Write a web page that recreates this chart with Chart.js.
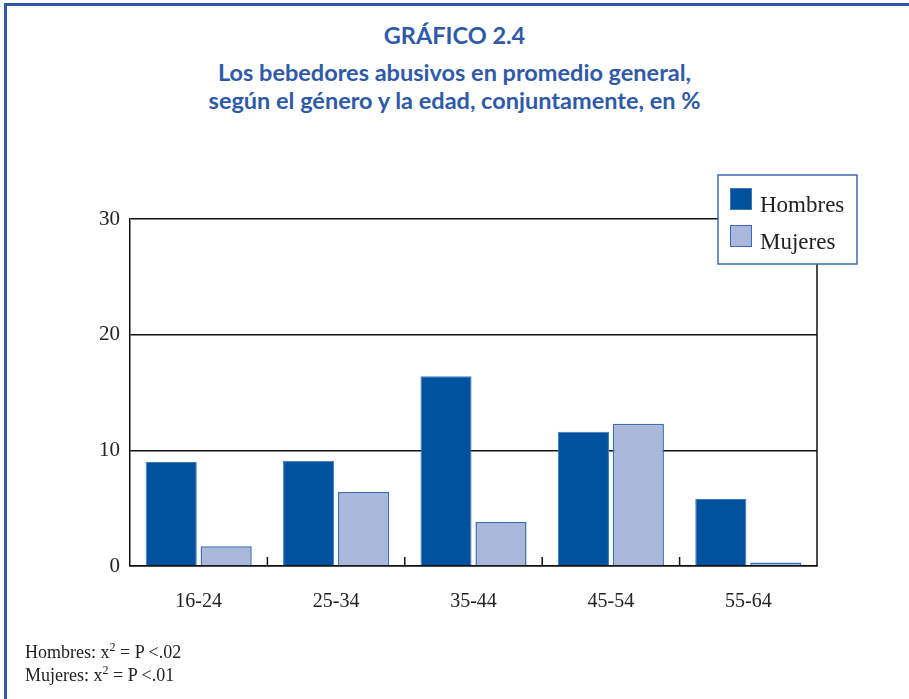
<!DOCTYPE html>
<html>
<head>
<meta charset="utf-8">
<script src="https://cdn.jsdelivr.net/npm/chart.js@4.4.1/dist/chart.umd.min.js"></script>
<style>
    html, body {
        margin: 0;
        padding: 0;
        background: #fff;
    }
    .page {
        position: relative;
        width: 909px;
        height: 699px;
        overflow: hidden;
    }
    .frame {
        position: absolute;
        left: 4px;
        top: 3px;
        width: 960px;
        height: 760px;
        border-left: 3px solid #2f5aa8;
        border-top: 3px solid #2f5aa8;
    }
    .title {
        position: absolute;
        left: 0;
        width: 909px;
        text-align: center;
        font-family: Lato, "Open Sans", sans-serif;
        font-weight: bold;
        color: #2f5aa8;
        font-size: 23.5px;
        line-height: 28px;
    }
    .notes {
        position: absolute;
        left: 25px;
        top: 641px;
        font-family: "Liberation Serif", "DejaVu Serif", serif;
        font-size: 18px;
        line-height: 23px;
        color: #222;
    }
    .notes sup { font-size: 12px; line-height: 0; }
    canvas {
        position: absolute;
        left: 0;
        top: 0;
    }
</style>
</head>
<body>
<div class="page">
    <div class="frame"></div>
    <div class="title" style="top:21px;">GRÁFICO 2.4</div>
    <div class="title" style="top:58px;">Los bebedores abusivos en promedio general,</div>
    <div class="title" style="top:86px;">según el género y la edad, conjuntamente, en %</div>
    <canvas id="chart" width="909" height="699"></canvas>
    <div class="notes">
        Hombres: x<sup>2</sup> = P &lt;.02<br>
        Mujeres: x<sup>2</sup> = P &lt;.01
    </div>
</div>
<script>
// Chart data
const categories = ['16-24', '25-34', '35-44', '45-54', '55-64'];
const hombres = [9.0, 9.1, 16.4, 11.6, 5.8];
const mujeres = [1.7, 6.4, 3.8, 12.3, 0.3];
const yTicks = [0, 10, 20, 30];

const serif = '"Liberation Serif", "DejaVu Serif", serif';

// Inward ticks between categories, right border and legend box
const framePlugin = {
    id: 'framePlugin',
    afterDraw(chart) {
        const ctx = chart.ctx;
        const area = chart.chartArea;
        const x = chart.scales.x;

        ctx.save();
        ctx.strokeStyle = '#111';
        ctx.lineWidth = 1.5;

        // right border
        ctx.beginPath();
        ctx.moveTo(area.right, area.top);
        ctx.lineTo(area.right, area.bottom);
        ctx.stroke();

        // small ticks between categories
        for (let i = 0; i < categories.length - 1; i++) {
            const px = (x.getPixelForValue(i) + x.getPixelForValue(i + 1)) / 2;
            ctx.beginPath();
            ctx.moveTo(px, area.bottom);
            ctx.lineTo(px, area.bottom - 9);
            ctx.stroke();
        }

        // legend
        const lx = 718, ly = 175, lw = 139, lh = 89;
        ctx.fillStyle = '#fff';
        ctx.fillRect(lx, ly, lw, lh);
        ctx.strokeStyle = '#3c68b4';
        ctx.lineWidth = 1.5;
        ctx.strokeRect(lx, ly, lw, lh);

        ctx.font = '23px ' + serif;
        ctx.textBaseline = 'middle';
        chart.data.datasets.forEach((ds, i) => {
            const sy = ly + 13 + i * 37;
            ctx.fillStyle = ds.backgroundColor;
            ctx.fillRect(lx + 12, sy, 22, 22);
            ctx.strokeStyle = ds.borderColor;
            ctx.lineWidth = 1;
            ctx.strokeRect(lx + 12.5, sy + 0.5, 21, 21);
            ctx.fillStyle = '#222';
            ctx.fillText(ds.label, lx + 42, sy + 18);
        });
        ctx.restore();
    }
};

new Chart(document.getElementById('chart'), {
    type: 'bar',
    data: {
        labels: categories,
        datasets: [
            {
                label: 'Hombres',
                data: hombres,
                backgroundColor: '#00529f',
                borderColor: '#3d79bb',
                borderWidth: 1
            },
            {
                label: 'Mujeres',
                data: mujeres,
                backgroundColor: '#abb8db',
                borderColor: '#3a6db3',
                borderWidth: 1.5
            }
        ]
    },
    options: {
        responsive: false,
        animation: false,
        layout: {
            padding: { left: 0, right: 92, top: 219, bottom: 0 }
        },
        plugins: {
            legend: { display: false },
            title: { display: false },
            tooltip: { enabled: false }
        },
        datasets: {
            bar: {
                categoryPercentage: 0.8,
                barPercentage: 0.93
            }
        },
        scales: {
            x: {
                grid: { display: false },
                border: { display: true, color: '#111', width: 1.5 },
                ticks: {
                    color: '#222',
                    font: { family: serif, size: 20 },
                    padding: 16
                },
                afterFit(scale) { scale.height = 133; }
            },
            y: {
                min: 0,
                max: 30,
                afterBuildTicks(scale) {
                    scale.ticks = yTicks.map(v => ({ value: v }));
                },
                grid: {
                    color: '#111',
                    lineWidth: 1.5,
                    drawTicks: false
                },
                border: { display: true, color: '#111', width: 1.5 },
                ticks: {
                    color: '#222',
                    font: { family: serif, size: 21 },
                    padding: 10
                },
                afterFit(scale) { scale.width = 130; }
            }
        }
    },
    plugins: [framePlugin]
});
</script>
</body>
</html>
